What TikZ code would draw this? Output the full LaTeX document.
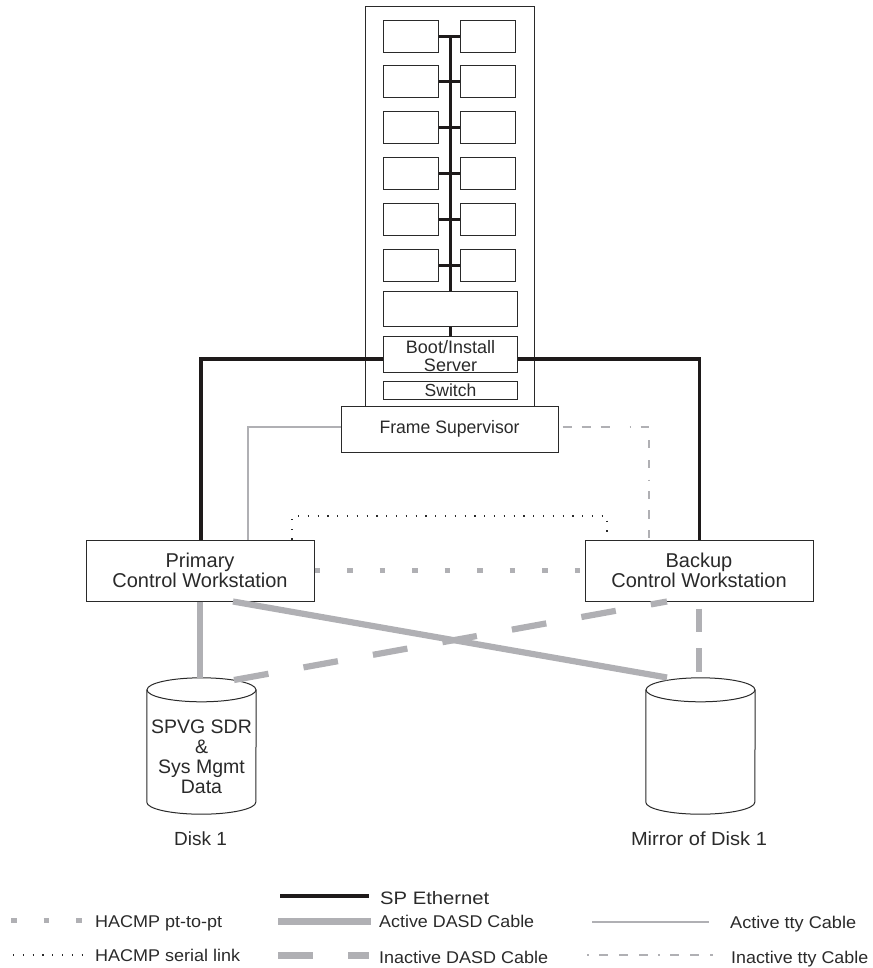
\documentclass[tikz,border=0pt]{standalone}
\usepackage{fontspec}
\usepackage{graphicx}
\setmainfont{Liberation Sans}
\usetikzlibrary{calc}
\definecolor{ink}{HTML}{2A2A2A}
\definecolor{cable}{HTML}{B0B0B4}
\definecolor{ether}{HTML}{1E1A1A}
\newcommand{\sz}[1]{\fontsize{#1}{#1}\selectfont}
\newcommand{\fitw}[3]{\resizebox{#1pt}{\height}{\sz{#2}#3}}
\newcommand{\cyl}[1]{%
  \filldraw[boxline,fill=white] ([yshift=-12pt]#1.north west) -- ([yshift=12pt]#1.south west)
    arc[start angle=180,end angle=360,x radius=54.5pt,y radius=12pt]
    -- ([yshift=-12pt]#1.north east);
  \filldraw[boxline,fill=white] ([yshift=-12pt]#1.north) ellipse [x radius=54.5pt,y radius=12pt];}
\tikzset{
  boxline/.style={draw=ink,line width=1pt},
  box/.style={boxline,fill=white,inner sep=0pt,text=ink,align=center},
  txt/.style={inner sep=0pt,text=ink,anchor=base west},
  ctr/.style={inner sep=0pt,text=ink,anchor=base},
  eth/.style={draw=ether,line width=3.6pt},
  stub/.style={draw=ether,line width=3pt},
  adasd/.style={draw=cable,line width=6.2pt},
  idasd/.style={draw=cable,line width=6.2pt,dash pattern=on 35pt off 35.6pt},
  pttopt/.style={draw=cable,line width=5.5pt,dash pattern=on 5.5pt off 27pt},
  serial/.style={draw=ink,line width=1.2pt,dash pattern=on 1.2pt off 8.6pt},
  atty/.style={draw=cable,line width=2pt},
  itty/.style={draw=cable,line width=2pt},
}
\begin{document}
\begin{tikzpicture}[x=1pt,y=-1pt]
\useasboundingbox (0,0) rectangle (872,968);
% frame
\node[boxline,fill=white,minimum width=168.5pt,minimum height=400pt,inner sep=0pt] (frame) at (449.8,207) {};
% node boxes
\foreach \n/\y in {1/36.8,2/82,3/128,4/174,5/219.5,6/265}{
  \node[box,minimum width=54.5pt,minimum height=32pt] (a\n) at (411.2,\y) {};
  \node[box,minimum width=54.5pt,minimum height=32pt] (b\n) at (488,\y) {};
}
\node[box,minimum width=134.4pt,minimum height=35pt] (big) at (450.5,308.5) {};
\node[box,minimum width=134.4pt,minimum height=35pt,font=\sz{18}] (boot) at (450.5,354.5)
  {\rule{0pt}{17pt}Boot/Install\\Server};
\node[box,minimum width=134.4pt,minimum height=18pt,font=\sz{17.5}] (switch) at (450.5,390) {Switch};
\node[box,minimum width=217pt,minimum height=46pt] (fs) at (449.5,429) {\fitw{140}{18}{Frame Supervisor}};
\node[box,minimum width=228pt,minimum height=61pt,font=\sz{20}] (prim) at (200,570.5) {Primary\\Control Workstation};
\node[box,minimum width=228pt,minimum height=61pt,font=\sz{20}] (back) at (699,570.5) {Backup\\Control Workstation};
% disks
\node[minimum width=109pt,minimum height=136pt,inner sep=0pt] (d1) at (201.5,746) {};
\node[minimum width=109pt,minimum height=136pt,inner sep=0pt] (d2) at (700.5,746) {};
\cyl{d1}
\cyl{d2}
\node[inner sep=0pt,text=ink,align=center,font=\sz{19.5}] (d1t) at (201.5,757) {SPVG SDR\\[0.5pt]\&\\[0.5pt]Sys Mgmt\\[0.5pt]Data};
\node[ctr,font=\sz{19}] (d1c) at (200.5,845) {Disk 1};
\node[ctr,font=\sz{19}] (d2c) at (699,845) {\resizebox{136pt}{\height}{Mirror of Disk 1}};
% connector helpers
\coordinate (eL) at (201,359);
\coordinate (eR) at (699.5,359);
\coordinate (ttyL) at (248,427);
\coordinate (ttyR) at (649,427);
\coordinate (serL) at (292,516);
\coordinate (serR) at (607,516);
\coordinate (daA) at (233,601.5);
\coordinate (daB) at (667,677.5);
\coordinate (diA) at (234,680);
\coordinate (diB) at (667,601.5);
% ethernet
\foreach \n in {1,2,3,4,5,6}{ \draw[stub] (a\n.east) -- (b\n.west); }
\draw[eth] (big.north |- a1.east) -- (big.north);
\draw[eth] (big.south) -- (boot.north);
\draw[eth] (boot.west |- eL) -- (eL) -- (eL |- prim.north);
\draw[eth] (boot.east |- eR) -- (eR) -- (eR |- back.north);
% tty
\draw[atty] (fs.west |- ttyL) -- (ttyL) -- (ttyL |- prim.north);
\draw[itty,dash pattern=on 0pt off 4pt on 9pt off 10pt on 9pt off 10pt on 9pt off 20pt on 1.5pt off 9.5pt on 9pt off 20pt] (fs.east |- ttyR) -- (ttyR);
\draw[itty,dash pattern=on 0pt off 13pt on 8pt off 12pt on 8pt off 11.5pt on 1.5pt off 10pt on 8pt off 11pt on 9pt off 11pt on 8pt off 20pt] (ttyR) -- (ttyR |- back.north);
% serial
\draw[serial] (serL |- prim.north) -- (serL) -- (serR) -- (serR |- back.north);
% pt-to-pt
\draw[pttopt] (prim.east) -- (back.west);
% DASD
\draw[adasd] (prim.south) -- (prim.south |- d1.north);
\draw[adasd] (daA) -- (daB);
\draw[idasd] (diA) -- (diB);
\draw[idasd,dash pattern=on 0pt off 7pt on 23.5pt off 16pt on 23.5pt off 20pt] (back.south) -- (back.south |- d2.north);
% legend
\coordinate (l1a) at (280,896); \coordinate (l1b) at (369,896);
\draw[eth] (l1a) -- (l1b);
\node[txt] (l1) at (380,904) {\fitw{109}{18}{SP Ethernet}};
\coordinate (l2a) at (11,920.5); \coordinate (l2b) at (82,920.5);
\draw[pttopt] (l2a) -- (l2b);
\node[txt] (l2) at (95,927) {\fitw{127}{17}{HACMP pt-to-pt}};
\coordinate (l3a) at (13,955); \coordinate (l3b) at (84,955);
\draw[serial] (l3a) -- (l3b);
\node[txt] (l3) at (95,961) {\fitw{145}{17}{HACMP serial link}};
\coordinate (l4a) at (278,921); \coordinate (l4b) at (371,921);
\draw[adasd,line width=7pt] (l4a) -- (l4b);
\node[txt] (l4) at (379,927) {\fitw{155}{17}{Active DASD Cable}};
\coordinate (l5a) at (278,955); \coordinate (l5b) at (369,955);
\draw[idasd,line width=7pt,dash pattern=on 35pt off 35pt] (l5a) -- (l5b);
\node[txt] (l5) at (379,963) {\fitw{169}{17}{Inactive DASD Cable}};
\coordinate (l6a) at (592,922); \coordinate (l6b) at (709,922);
\draw[atty] (l6a) -- (l6b);
\node[txt] (l6) at (730,928) {\fitw{126}{17}{Active tty Cable}};
\coordinate (l7a) at (587,955); \coordinate (l7b) at (713,955);
\draw[itty,dash pattern=on 1.5pt off 10.5pt on 9pt off 11pt on 9pt off 11pt on 9pt off 10pt on 1.5pt off 10.5pt on 9pt off 11pt on 9pt off 11pt on 4pt off 20pt] (l7a) -- (l7b);
\node[txt] (l7) at (731,963) {\fitw{137}{17}{Inactive tty Cable}};
\end{tikzpicture}
\end{document}
